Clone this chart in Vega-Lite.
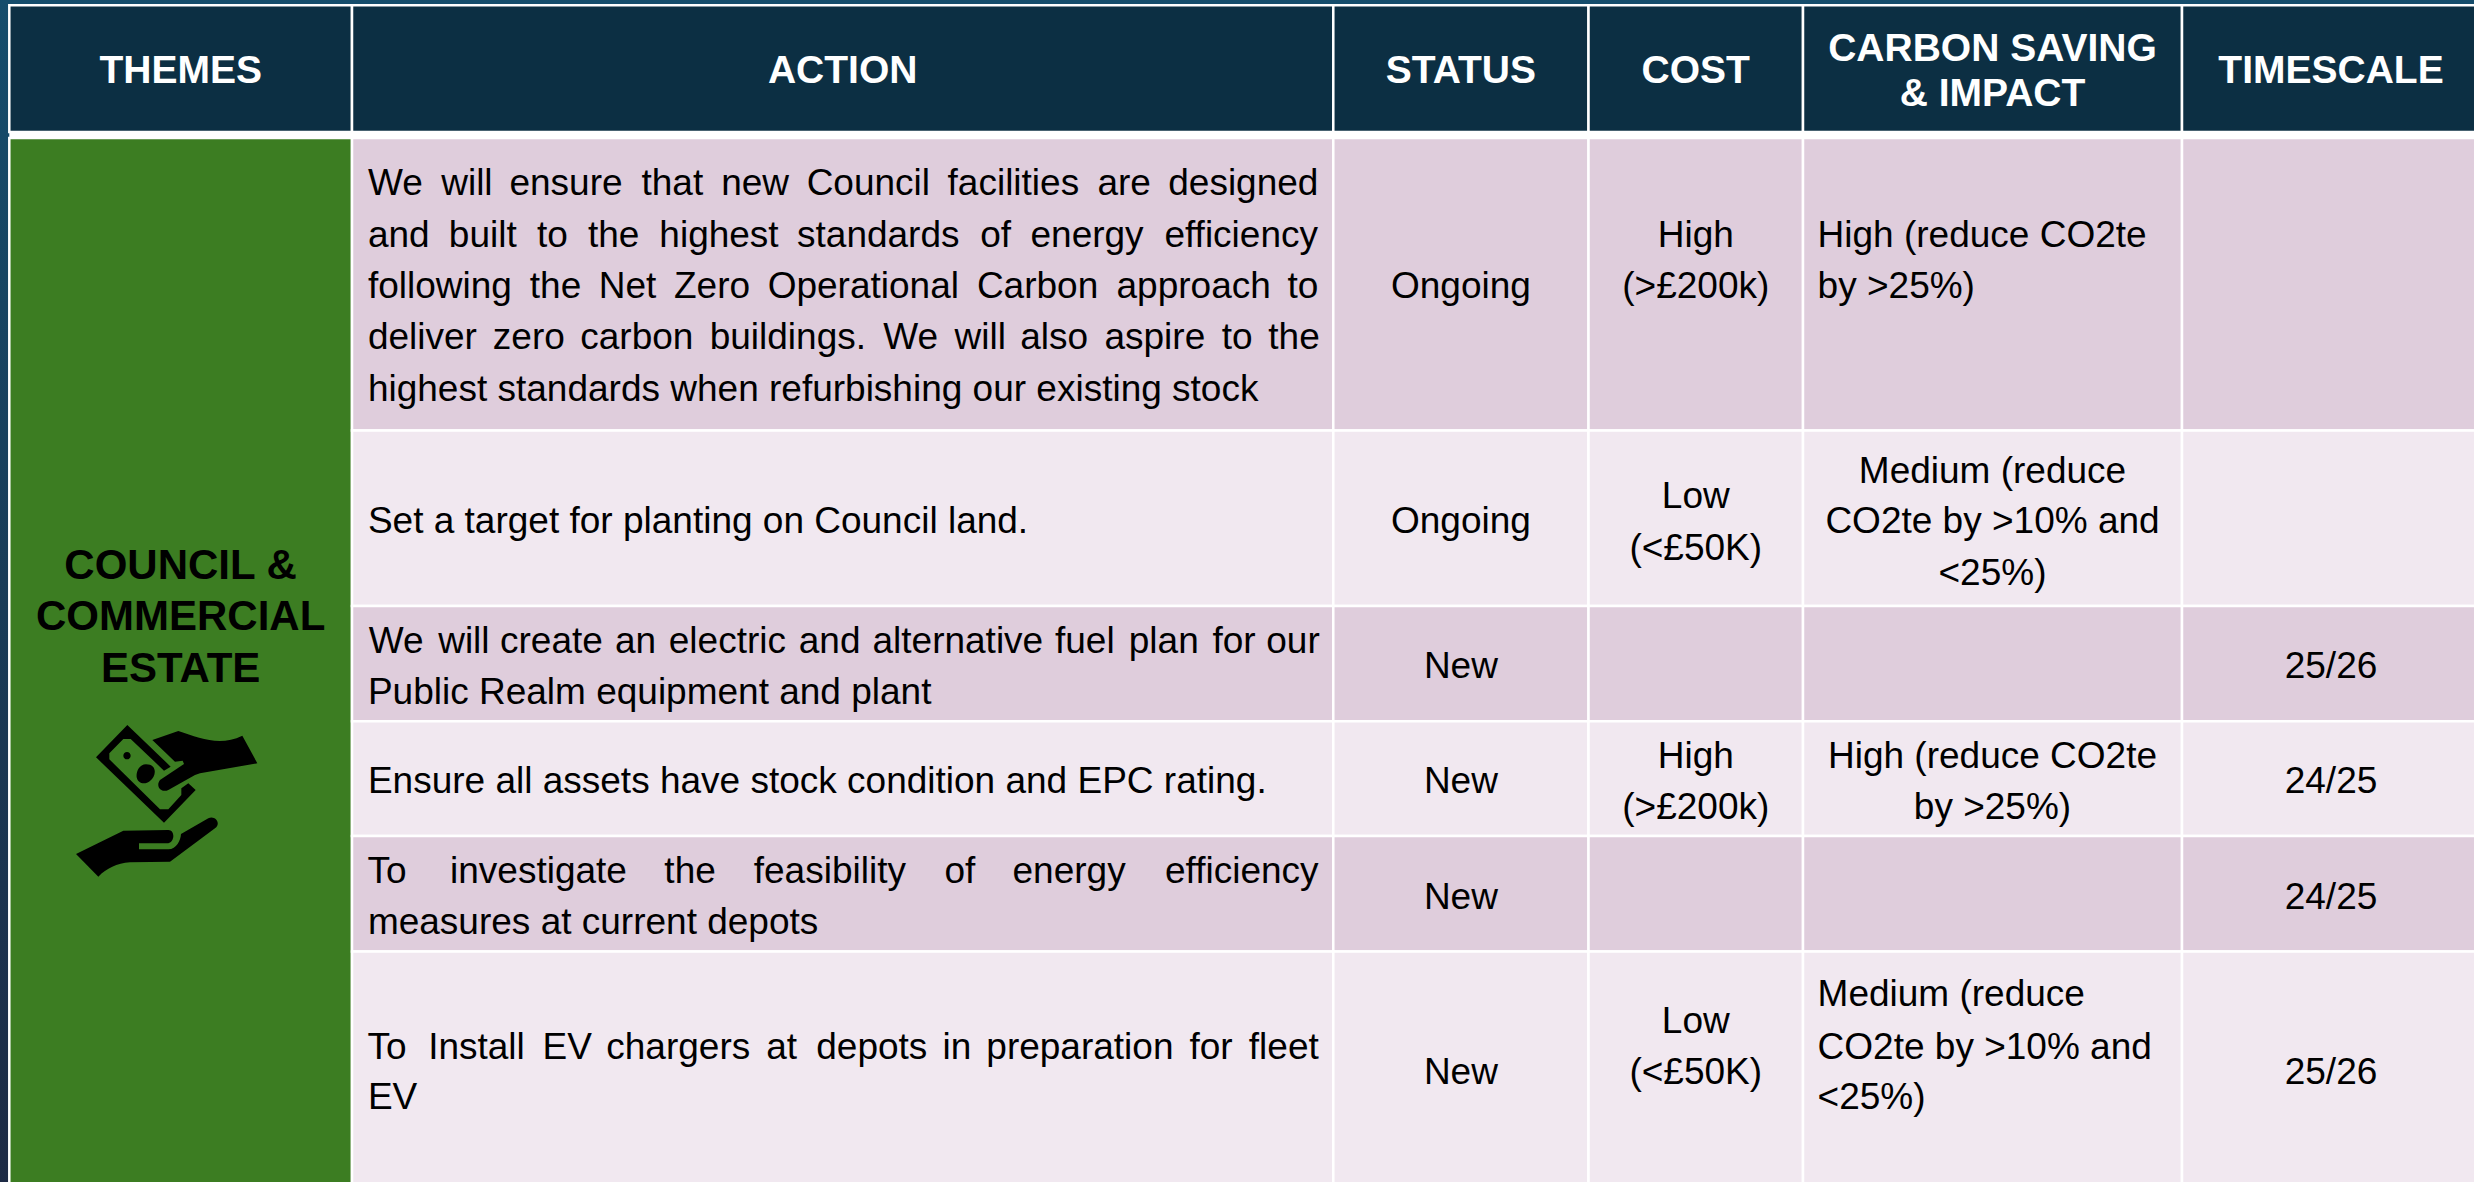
{"$schema":"https://vega.github.io/schema/vega-lite/v6.json","width":2474,"height":1182,"padding":0,"autosize":{"type":"none"},"background":"#ffffff","view":{"stroke":null},"config":{"font":"Liberation Sans","text":{"font":"Liberation Sans"}},
"datasets":{
"backdrop":[{"col":-1,"colEnd":6,"row":-1,"rowEnd":8}],
"gap":[{"col":0,"colEnd":6,"row":1,"rowEnd":2}],
"cells":[
{"col":0,"colEnd":1,"row":0,"rowEnd":1,"kind":"header"},{"col":1,"colEnd":2,"row":0,"rowEnd":1,"kind":"header"},{"col":2,"colEnd":3,"row":0,"rowEnd":1,"kind":"header"},{"col":3,"colEnd":4,"row":0,"rowEnd":1,"kind":"header"},{"col":4,"colEnd":5,"row":0,"rowEnd":1,"kind":"header"},{"col":5,"colEnd":6,"row":0,"rowEnd":1,"kind":"header"},
{"col":0,"colEnd":1,"row":2,"rowEnd":8,"kind":"theme"},
{"col":1,"colEnd":2,"row":2,"rowEnd":3,"kind":"dark"},{"col":2,"colEnd":3,"row":2,"rowEnd":3,"kind":"dark"},{"col":3,"colEnd":4,"row":2,"rowEnd":3,"kind":"dark"},{"col":4,"colEnd":5,"row":2,"rowEnd":3,"kind":"dark"},{"col":5,"colEnd":6,"row":2,"rowEnd":3,"kind":"dark"},
{"col":1,"colEnd":2,"row":3,"rowEnd":4,"kind":"light"},{"col":2,"colEnd":3,"row":3,"rowEnd":4,"kind":"light"},{"col":3,"colEnd":4,"row":3,"rowEnd":4,"kind":"light"},{"col":4,"colEnd":5,"row":3,"rowEnd":4,"kind":"light"},{"col":5,"colEnd":6,"row":3,"rowEnd":4,"kind":"light"},
{"col":1,"colEnd":2,"row":4,"rowEnd":5,"kind":"dark"},{"col":2,"colEnd":3,"row":4,"rowEnd":5,"kind":"dark"},{"col":3,"colEnd":4,"row":4,"rowEnd":5,"kind":"dark"},{"col":4,"colEnd":5,"row":4,"rowEnd":5,"kind":"dark"},{"col":5,"colEnd":6,"row":4,"rowEnd":5,"kind":"dark"},
{"col":1,"colEnd":2,"row":5,"rowEnd":6,"kind":"light"},{"col":2,"colEnd":3,"row":5,"rowEnd":6,"kind":"light"},{"col":3,"colEnd":4,"row":5,"rowEnd":6,"kind":"light"},{"col":4,"colEnd":5,"row":5,"rowEnd":6,"kind":"light"},{"col":5,"colEnd":6,"row":5,"rowEnd":6,"kind":"light"},
{"col":1,"colEnd":2,"row":6,"rowEnd":7,"kind":"dark"},{"col":2,"colEnd":3,"row":6,"rowEnd":7,"kind":"dark"},{"col":3,"colEnd":4,"row":6,"rowEnd":7,"kind":"dark"},{"col":4,"colEnd":5,"row":6,"rowEnd":7,"kind":"dark"},{"col":5,"colEnd":6,"row":6,"rowEnd":7,"kind":"dark"},
{"col":1,"colEnd":2,"row":7,"rowEnd":8,"kind":"light"},{"col":2,"colEnd":3,"row":7,"rowEnd":8,"kind":"light"},{"col":3,"colEnd":4,"row":7,"rowEnd":8,"kind":"light"},{"col":4,"colEnd":5,"row":7,"rowEnd":8,"kind":"light"},{"col":5,"colEnd":6,"row":7,"rowEnd":8,"kind":"light"}],
"headers":[
{"col":0.5,"row":0.616,"text":"THEMES"},{"col":1.5,"row":0.616,"text":"ACTION"},{"col":2.5,"row":0.616,"text":"STATUS"},{"col":3.5,"row":0.616,"text":"COST"},{"col":4.5,"row":0.438,"text":"CARBON SAVING"},{"col":4.5,"row":0.795,"text":"& IMPACT"},{"col":5.5,"row":0.616,"text":"TIMESCALE"}],
"theme":[{"col":0.5,"row":3.849,"text":"COUNCIL &"},{"col":0.5,"row":4.208,"text":"COMMERCIAL"},{"col":0.5,"row":4.659,"text":"ESTATE"}],
"icon":[{"col":0.0896,"row":4.815}],
"centered":[
{"col":2.5,"row":2.547,"text":"Ongoing"},{"col":3.5,"row":2.373,"text":"High"},{"col":3.5,"row":2.547,"text":"(>£200k)"},
{"col":2.5,"row":3.584,"text":"Ongoing"},{"col":3.5,"row":3.442,"text":"Low"},{"col":3.5,"row":3.738,"text":"(<£50K)"},{"col":4.5,"row":3.297,"text":"Medium (reduce"},{"col":4.5,"row":3.584,"text":"CO2te by >10% and"},{"col":4.5,"row":3.88,"text":"<25%)"},
{"col":2.5,"row":4.624,"text":"New"},{"col":5.5,"row":4.624,"text":"25/26"},
{"col":2.5,"row":5.629,"text":"New"},{"col":3.5,"row":5.407,"text":"High"},{"col":3.5,"row":5.849,"text":"(>£200k)"},{"col":4.5,"row":5.407,"text":"High (reduce CO2te"},{"col":4.5,"row":5.849,"text":"by >25%)"},{"col":5.5,"row":5.629,"text":"24/25"},
{"col":2.5,"row":6.63,"text":"New"},{"col":5.5,"row":6.63,"text":"24/25"},
{"col":2.5,"row":7.556,"text":"New"},{"col":3.5,"row":7.342,"text":"Low"},{"col":3.5,"row":7.556,"text":"(<£50K)"},{"col":5.5,"row":7.556,"text":"25/26"}],
"leftAligned":[
{"col":1.0162,"row":2.898,"text":"highest standards when refurbishing our existing stock"},
{"col":4.0385,"row":2.373,"text":"High (reduce CO2te"},{"col":4.0385,"row":2.547,"text":"by >25%)"},
{"col":1.0162,"row":3.584,"text":"Set a target for planting on Council land."},
{"col":1.0162,"row":4.846,"text":"Public Realm equipment and plant"},
{"col":1.0162,"row":5.629,"text":"Ensure all assets have stock condition and EPC rating."},
{"col":1.0162,"row":6.847,"text":"measures at current depots"},
{"col":1.0162,"row":7.662,"text":"EV"},
{"col":4.0385,"row":7.23,"text":"Medium (reduce"},{"col":4.0385,"row":7.449,"text":"CO2te by >10% and"},{"col":4.0385,"row":7.662,"text":"<25%)"},
{"col":1.0162,"row":2.195,"text":"We"},{"col":1.0909,"row":2.195,"text":"will"},{"col":1.1604,"row":2.195,"text":"ensure"},{"col":1.295,"row":2.195,"text":"that"},{"col":1.3762,"row":2.195,"text":"new"},{"col":1.4633,"row":2.195,"text":"Council"},{"col":1.6069,"row":2.195,"text":"facilities"},{"col":1.7596,"row":2.195,"text":"are"},{"col":1.8318,"row":2.195,"text":"designed"},
{"col":1.0162,"row":2.373,"text":"and"},{"col":1.0987,"row":2.373,"text":"built"},{"col":1.1884,"row":2.373,"text":"to"},{"col":1.2404,"row":2.373,"text":"the"},{"col":1.3132,"row":2.373,"text":"highest"},{"col":1.4535,"row":2.373,"text":"standards"},{"col":1.6401,"row":2.373,"text":"of"},{"col":1.6914,"row":2.373,"text":"energy"},{"col":1.8279,"row":2.373,"text":"efficiency"},
{"col":1.0162,"row":2.547,"text":"following"},{"col":1.1812,"row":2.547,"text":"the"},{"col":1.2514,"row":2.547,"text":"Net"},{"col":1.3281,"row":2.547,"text":"Zero"},{"col":1.4236,"row":2.547,"text":"Operational"},{"col":1.6368,"row":2.547,"text":"Carbon"},{"col":1.7791,"row":2.547,"text":"approach"},{"col":1.9533,"row":2.547,"text":"to"},
{"col":1.0162,"row":2.723,"text":"deliver"},{"col":1.1435,"row":2.723,"text":"zero"},{"col":1.2326,"row":2.723,"text":"carbon"},{"col":1.3645,"row":2.723,"text":"buildings."},{"col":1.5413,"row":2.723,"text":"We"},{"col":1.6141,"row":2.723,"text":"will"},{"col":1.681,"row":2.723,"text":"also"},{"col":1.7668,"row":2.723,"text":"aspire"},{"col":1.8864,"row":2.723,"text":"to"},{"col":1.9338,"row":2.723,"text":"the"},
{"col":1.0171,"row":4.408,"text":"We"},{"col":1.0878,"row":4.408,"text":"will"},{"col":1.1508,"row":4.408,"text":"create"},{"col":1.268,"row":4.408,"text":"an"},{"col":1.3228,"row":4.408,"text":"electric"},{"col":1.4553,"row":4.408,"text":"and"},{"col":1.5304,"row":4.408,"text":"alternative"},{"col":1.7164,"row":4.408,"text":"fuel"},{"col":1.7916,"row":4.408,"text":"plan"},{"col":1.8769,"row":4.408,"text":"for"},{"col":1.9317,"row":4.408,"text":"our"},
{"col":1.0158,"row":6.41,"text":"To"},{"col":1.0999,"row":6.41,"text":"investigate"},{"col":1.3183,"row":6.41,"text":"the"},{"col":1.4094,"row":6.41,"text":"feasibility"},{"col":1.6037,"row":6.41,"text":"of"},{"col":1.6731,"row":6.41,"text":"energy"},{"col":1.8285,"row":6.41,"text":"efficiency"},
{"col":1.0158,"row":7.449,"text":"To"},{"col":1.0776,"row":7.449,"text":"Install"},{"col":1.1941,"row":7.449,"text":"EV"},{"col":1.2591,"row":7.449,"text":"chargers"},{"col":1.4221,"row":7.449,"text":"at"},{"col":1.4731,"row":7.449,"text":"depots"},{"col":1.6018,"row":7.449,"text":"in"},{"col":1.6464,"row":7.449,"text":"preparation"},{"col":1.8534,"row":7.449,"text":"for"},{"col":1.9139,"row":7.449,"text":"fleet"}]
},
"encoding":{
"x":{"field":"col","type":"quantitative","axis":null,"scale":{"domain":[-1,0,1,2,3,4,5,6],"range":[0,9.3,352,1333.3,1588.5,1803,2182,2480],"nice":false,"zero":false}},
"y":{"field":"row","type":"quantitative","axis":null,"scale":{"domain":[-1,0,1,2,3,4,5,6,7,8],"range":[0,5.2,132,137.9,430.5,606,721.3,836,951.5,1190],"nice":false,"zero":false}}
},
"layer":[
{"data":{"name":"backdrop"},"mark":{"type":"rect","color":{"gradient":"linear","x1":0,"y1":0,"x2":0,"y2":1,"stops":[{"offset":0,"color":"#154d6c"},{"offset":1,"color":"#1d2a45"}]}},"encoding":{"x2":{"field":"colEnd"},"y2":{"field":"rowEnd"}}},
{"data":{"name":"gap"},"mark":{"type":"rect","color":"#ffffff"},"encoding":{"x2":{"field":"colEnd"},"y2":{"field":"rowEnd"}}},
{"data":{"name":"cells"},"mark":{"type":"rect","stroke":"#ffffff","strokeWidth":2.5},"encoding":{"x2":{"field":"colEnd"},"y2":{"field":"rowEnd"},"fill":{"field":"kind","type":"nominal","legend":null,"scale":{"domain":["header","theme","dark","light"],"range":["#0c2f43","#3c7d22","#dfcddc","#f1e8f0"]}}}},
{"data":{"name":"headers"},"mark":{"type":"text","font":"Liberation Sans","fontWeight":"bold","fontSize":39,"align":"center","baseline":"alphabetic","color":"#ffffff"},"encoding":{"text":{"field":"text"}}},
{"data":{"name":"theme"},"mark":{"type":"text","font":"Liberation Sans","fontWeight":"bold","fontSize":42,"align":"center","baseline":"alphabetic","color":"#000000"},"encoding":{"text":{"field":"text"}}},
{"data":{"name":"icon"},"mark":{"type":"point","filled":true,"opacity":1,"color":"#000000","size":0.4444,"shape":"M262 75L168 172L372 368L467 270L445 250L424 265L424 285L385 328L360 328L208 178L208 160L250 117L272 117L372 212L392 200ZM261 156A11 11 0 1 0 261 178A11 11 0 1 0 261 156ZM318 193C296 193 288 218 290 232C294 252 316 255 330 243C350 228 352 193 318 193ZM337 120L415 93C480 115 540 140 607 107L652 190L480 220L465 225L385 270C365 280 345 260 360 240L432 192L428 182L405 185ZM108 462L250 392L385 390C405 390 405 425 385 430L297 430L297 448L385 448C410 448 422 420 423 402L505 355C525 345 545 370 525 385L390 485L270 487C230 490 200 505 175 530Z"}},
{"data":{"name":"centered"},"mark":{"type":"text","font":"Liberation Sans","fontSize":37,"align":"center","baseline":"alphabetic","color":"#000000"},"encoding":{"text":{"field":"text"}}},
{"data":{"name":"leftAligned"},"mark":{"type":"text","font":"Liberation Sans","fontSize":37,"align":"left","baseline":"alphabetic","color":"#000000"},"encoding":{"text":{"field":"text"}}}
]}
